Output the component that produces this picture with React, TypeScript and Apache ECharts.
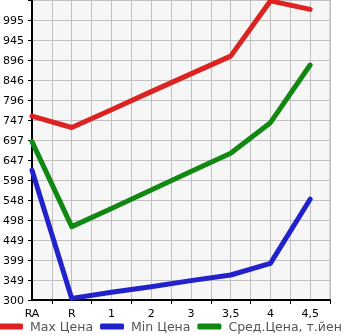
import React, { useEffect, useRef } from "react";
import * as echarts from "echarts";

const categories = ["RA", "R", "1", "2", "3", "3,5", "4", "4,5"];
const maxPrice = [756, 728, 772, 817, 861, 905, 1042, 1021];
const minPrice = [622, 304, 319, 333, 348, 362, 391, 550];
const avgPrice = [693, 482, 527, 573, 619, 664, 740, 883];
const yTickLabels = ["300", "349", "399", "449", "498", "548", "598", "647", "697", "747", "796", "846", "896", "945", "995"];
const seriesNames = ["Max Цена", "Min Цена", "Сред.Цена, т.йен"];
const colors = ["#dd2222", "#2222cc", "#118811"];

const Y_MIN = 300;
const Y_STEP = 49.62;

export default function App() {
  const ref = useRef<HTMLDivElement>(null);
  useEffect(() => {
    if (!ref.current) return;
    const chart = echarts.init(ref.current, null, { renderer: "svg" });
    const font = "DejaVu Sans";
    const tickSlots = Array.from({ length: categories.length * 2 }, (_, i) => String(i));
    const mk = (vals: number[]) => vals.map((v, i) => [i, v]);
    chart.setOption({
      animation: false,
      grid: {
        left: 31,
        right: 15,
        top: 0,
        bottom: 35,
        show: true,
        backgroundColor: "#f6f6f6",
        borderColor: "#bbbbbb",
        borderWidth: 1,
      },
      legend: {
        left: -1,
        top: 320,
        width: 700,
        padding: 0,
        orient: "horizontal",
        itemWidth: 24,
        itemHeight: 6,
        itemGap: 7,
        icon: "roundRect",
        data: seriesNames,
        textStyle: { fontFamily: font, fontSize: 12.5, padding: [0, 0, 0, 2] },
      },
      xAxis: [
        {
          type: "value",
          min: 0,
          max: categories.length - 0.5,
          interval: 0.5,
          position: "bottom",
          axisLine: { show: true, lineStyle: { color: "#000", width: 2 } },
          axisTick: { show: false },
          splitLine: { show: true, lineStyle: { color: "#c0c0c0", width: 1 } },
          axisLabel: {
            fontFamily: font,
            fontSize: 11,
            color: "#000",
            margin: 8,
            showMaxLabel: true,
            formatter: (v: number) => (Number.isInteger(v) && v < categories.length ? categories[v] : ""),
          },
        },
        {
          type: "category",
          data: tickSlots,
          boundaryGap: false,
          position: "bottom",
          axisLine: { show: false },
          axisLabel: { show: false },
          splitLine: { show: false },
          axisTick: {
            show: true,
            length: 4,
            interval: (i: number) => i % 2 === 1,
            lineStyle: { color: "#000", width: 1 },
          },
        },
      ],
      yAxis: {
        type: "value",
        min: Y_MIN,
        max: Y_MIN + Y_STEP * yTickLabels.length,
        interval: Y_STEP,
        axisLine: { show: true, lineStyle: { color: "#000", width: 2 } },
        axisTick: { show: true, length: 4, lineStyle: { color: "#000" } },
        splitLine: { show: true, lineStyle: { color: "#c0c0c0", width: 1 } },
        axisLabel: {
          fontFamily: font,
          fontSize: 11,
          color: "#000",
          margin: 8,
          formatter: (v: number) => {
            const idx = Math.round((v - Y_MIN) / Y_STEP);
            return yTickLabels[idx] ?? "";
          },
        },
      },
      series: [maxPrice, minPrice, avgPrice].map((vals, k) => ({
        name: seriesNames[k],
        type: "line",
        xAxisIndex: 0,
        data: mk(vals),
        symbol: "none",
        color: colors[k],
        lineStyle: { width: 5, color: colors[k], cap: "round", join: "round" },
        itemStyle: { color: colors[k] },
        clip: false,
      })),
    });
    return () => chart.dispose();
  }, []);
  return <div ref={ref} style={{ width: 345, height: 335, position: "fixed", left: 0, top: 0 }} />;
}
